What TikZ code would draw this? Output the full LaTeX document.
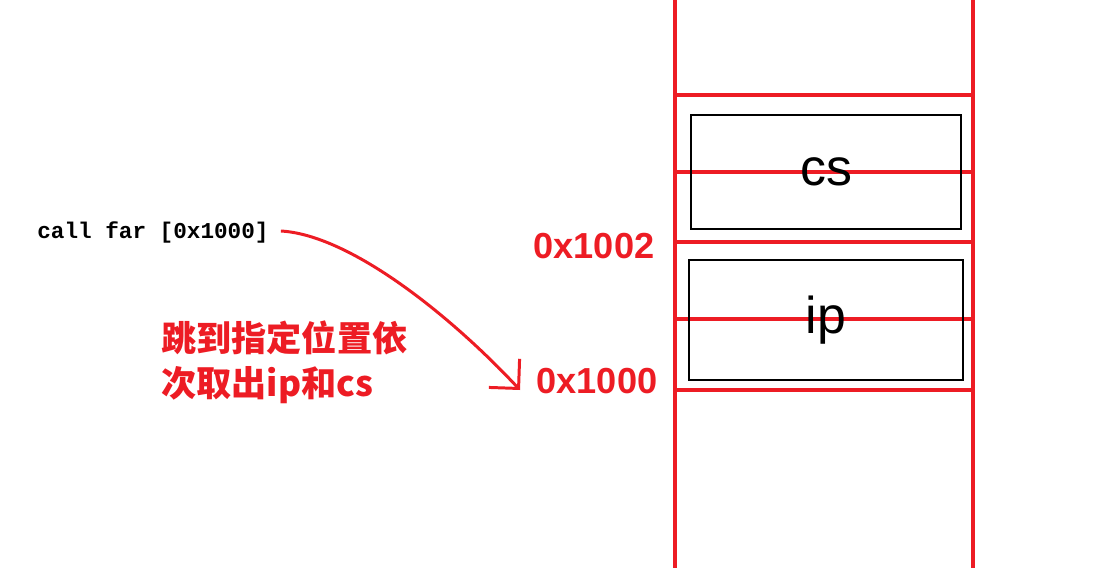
\documentclass[tikz,border=0pt]{standalone}
\usepackage{fontspec}
\setmainfont{Liberation Sans}
\newfontfamily\cjk{Noto Sans CJK SC}
\newfontfamily\codefont{Liberation Mono}
\usetikzlibrary{arrows.meta}
\definecolor{stackred}{HTML}{ED1C24}
\tikzset{
  memline/.style={stackred, line width=2.3pt},
  slot/.style={draw=black, minimum width=5.4cm, minimum height=2.28cm, inner sep=0pt, font=\fontsize{29.5}{32}\selectfont},
  addr/.style={text=stackred, font=\bfseries\fontsize{20.6}{24}\selectfont},
}
\begin{document}
\begin{tikzpicture}[x=0.02cm, y=-0.02cm]
    \useasboundingbox (0,0) rectangle (1094,568);

    % Pilha: paredes laterais e divisórias
    \draw[memline] (675,0) -- (675,568);
    \draw[memline] (973,0) -- (973,568);
    \foreach \h in {95, 172, 242, 319, 390} {
      \draw[memline] (675,\h) -- (973,\h);
    }

    % Conteúdo empilhado
    \node[slot, line width=1.1pt] (cs) at (826,172) {cs};
    \node[slot, line width=0.75pt, minimum width=5.48cm, minimum height=2.4cm] (ip) at (826,320) {ip};

    % Endereços
    \node[addr] (addrhi) at (594,246) {0x1002};
    \node[addr] (addrlo) at (597,381) {0x1000};

    % Instrução e explicação
    \node[anchor=west, inner sep=0pt, font=\codefont\bfseries\fontsize{12.9}{15}\selectfont] (call) at (37,232) {call far [0x1000]};
    \node[anchor=west, inner sep=0pt, align=left, text=stackred, font=\cjk\bfseries\fontsize{20}{25.5}\selectfont] (note) at (161,362) {跳到指定位置依\\次取出ip和cs};

    % Salto até o endereço
    \coordinate (target) at (520,390);
    \draw[stackred, line width=1.7pt, -{Straight Barb[length=0.42cm, width=0.84cm]}]
      (call.east) ++(12,-1) .. controls (350,235) and (450,315) .. (target);
  \end{tikzpicture}
\end{document}
